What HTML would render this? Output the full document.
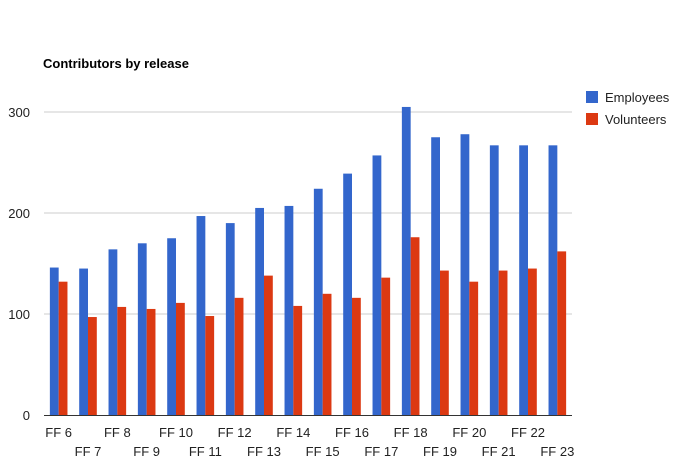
<!DOCTYPE html>
<html><head><meta charset="utf-8"><style>
body{margin:0;background:#fff;font-family:"Liberation Sans",Arial,sans-serif}
svg text{font-family:"Liberation Sans",Arial,sans-serif}
</style></head><body>
<svg id="chart" width="691" height="465">
<text x="43" y="68" font-size="13" font-weight="bold" fill="#000">Contributors by release</text>
<g id="grid"></g><g id="bars"></g><g id="labels"></g>
<g>
<rect x="586" y="91" width="12" height="12" fill="#3366cc"/>
<text x="605" y="102" font-size="13" fill="#222">Employees</text>
<rect x="586" y="113" width="12" height="12" fill="#dc3912"/>
<text x="605" y="124" font-size="13" fill="#222">Volunteers</text>
</g>
</svg>
<script>
const categories=["FF 6","FF 7","FF 8","FF 9","FF 10","FF 11","FF 12","FF 13","FF 14","FF 15","FF 16","FF 17","FF 18","FF 19","FF 20","FF 21","FF 22","FF 23"];
const employees=[146,145,164,170,175,197,190,205,207,224,239,257,305,275,278,267,267,267];
const volunteers=[132,97,107,105,111,98,116,138,108,120,116,136,176,143,132,143,145,162];
const yTicks=[0,100,200,300];
const NS="http://www.w3.org/2000/svg";
const L=44,R=572,B=415,pxPer=1.01;
const band=(R-L)/categories.length;
function y(v){return B-v*pxPer;}
function x(i){return L+i*band;}
function mk(tag,attrs,parent){const e=document.createElementNS(NS,tag);for(const k in attrs)e.setAttribute(k,attrs[k]);parent.appendChild(e);return e;}
const grid=document.getElementById('grid'),bars=document.getElementById('bars'),labels=document.getElementById('labels');
yTicks.forEach(t=>{
  if(t>0){const g=mk('line',{x1:L,x2:R,y1:y(t),y2:y(t),stroke:'#ccc','stroke-width':1},grid);
  
  }
  const tx=mk('text',{x:30,y:y(t)+5,'font-size':13,fill:'#222','text-anchor':'end'},grid);
  tx.textContent=t;
  
  
});
const bw=band*0.3;
categories.forEach((c,i)=>{
  const cx=x(i)+band/2;
  const b1=mk('rect',{x:cx-bw,y:y(employees[i]),width:bw,height:employees[i]*pxPer,fill:'#3366cc'},bars);
  
  
  const b2=mk('rect',{x:cx,y:y(volunteers[i]),width:bw,height:volunteers[i]*pxPer,fill:'#dc3912'},bars);
  
  
  const t=mk('text',{x:cx,y:(i%2===0)?437:456,'font-size':13,fill:'#222','text-anchor':'middle'},labels);
  t.textContent=c;
  
  
});
const ax=mk('line',{x1:L,x2:R,y1:B+0.5,y2:B+0.5,stroke:'#333','stroke-width':1},grid);


</script>
</body></html>
